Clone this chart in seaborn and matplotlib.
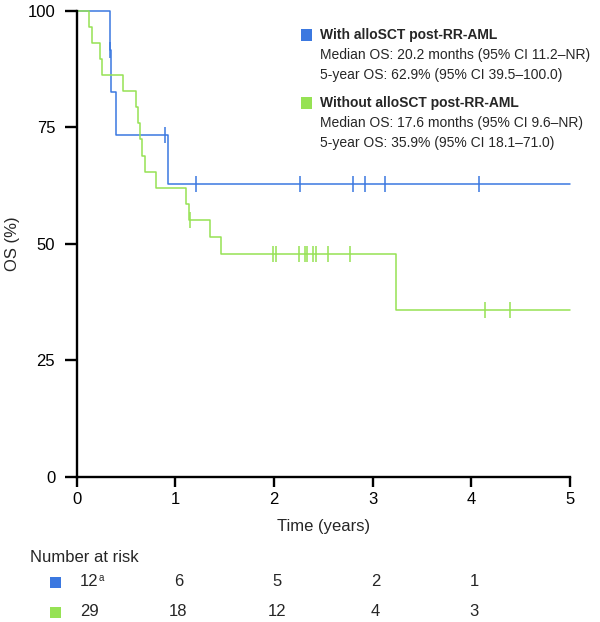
import numpy as np
import seaborn as sns
import matplotlib
matplotlib.use("Agg")
import matplotlib.pyplot as plt
from matplotlib.patches import Rectangle
from matplotlib.transforms import blended_transform_factory

# ---------------------------------------------------------------
# Data (time in years, 1 = death, 0 = censored)
# ---------------------------------------------------------------
with_times = [0.335, 0.34, 0.35, 0.395, 0.89, 0.93, 1.214, 2.262, 2.80, 2.918, 3.12, 4.077]
with_events = [1, 0, 1, 1, 0, 1, 0, 0, 0, 0, 0, 0]

without_times = [0.125, 0.155, 0.24, 0.26, 0.47, 0.60, 0.62, 0.64, 0.666, 0.69, 0.80,
                 1.112, 1.14, 1.145, 1.35, 1.467, 1.991, 2.018, 2.255, 2.309, 2.336,
                 2.397, 2.424, 2.543, 2.772, 3.232, 4.141, 4.388, 5.2]
without_events = [1, 1, 1, 1, 1, 1, 1, 1, 1, 1, 1,
                  1, 1, 0, 1, 1, 0, 0, 0, 0, 0,
                  0, 0, 0, 0, 1, 0, 0, 0]

risk_years = [0, 1, 2, 3, 4]
risk_with = ["12", "6", "5", "2", "1"]
risk_without = ["29", "18", "12", "4", "3"]

group_names = ["With alloSCT post-RR-AML", "Without alloSCT post-RR-AML"]
group_notes = [["Median OS: 20.2 months (95% CI 11.2\u2013NR)",
                "5-year OS: 62.9% (95% CI 39.5\u2013100.0)"],
               ["Median OS: 17.6 months (95% CI 9.6\u2013NR)",
                "5-year OS: 35.9% (95% CI 18.1\u201371.0)"]]

BLUE = "#3b78e0"
GREEN = "#96e254"
X_END = 5


def kaplan_meier(times, events):
    # step points for events, and the survival level at each censored time
    order = np.argsort(times)
    n = len(times)
    s = 100.0
    xs, ys = [0.0], [100.0]
    cx, cy = [], []
    for i in order:
        if events[i]:
            s = s * (n - 1) / n
            xs.append(times[i])
            ys.append(s)
        else:
            cx.append(times[i])
            cy.append(s)
        n -= 1
    xs.append(X_END)
    ys.append(s)
    return xs, ys, cx, cy


sns.set_theme(style="ticks")
plt.rcParams["font.family"] = ["Liberation Sans", "DejaVu Sans"]

W, H = 600, 622
fig = plt.figure(figsize=(W / 100, H / 100), dpi=100)
ax = fig.add_axes([76.7 / W, 1 - 476.7 / H, (570 - 76.7) / W, (476.7 - 11) / H])

for times, events, col in [(with_times, with_events, BLUE),
                           (without_times, without_events, GREEN)]:
    xs, ys, cx, cy = kaplan_meier(times, events)
    sns.lineplot(x=xs, y=ys, drawstyle="steps-post", estimator=None, sort=False,
                 color=col, lw=1.1, ax=ax, clip_on=False)
    sns.scatterplot(x=cx, y=cy, marker="|", s=125, color=col, linewidth=1.1,
                    ax=ax, zorder=3)

ax.set_xlim(0, 5)
ax.set_ylim(0, 100)
ax.set_xticks(range(0, 6))
ax.set_yticks([0, 25, 50, 75, 100])
for side in ["top", "right"]:
    ax.spines[side].set_visible(False)
for side in ["left", "bottom"]:
    ax.spines[side].set_linewidth(1.7)
    ax.spines[side].set_color("black")
ax.tick_params(axis="both", width=1.7, labelsize=12, colors="black")
ax.tick_params(axis="x", length=7, pad=4)
ax.tick_params(axis="y", length=8.5, pad=7)
ax.set_xlabel("Time (years)", fontsize=12, labelpad=9)
ax.set_ylabel("OS (%)", fontsize=12, labelpad=5)

# legend block, top right
sq = 11
legend_rows = [(35, BLUE), (103, GREEN)]
for (y0, col), name, notes in zip(legend_rows, group_names, group_notes):
    fig.add_artist(Rectangle((301.5 / W, 1 - (y0 + sq / 2) / H), sq / W, sq / H,
                             transform=fig.transFigure, color=col, lw=0))
    fig.text(320 / W, 1 - y0 / H, name, fontsize=10, fontweight="bold",
             ha="left", va="center")
    for k, line in enumerate(notes):
        fig.text(320 / W, 1 - (y0 + 20 * (k + 1)) / H, line, fontsize=10,
                 ha="left", va="center")

# number at risk table
fig.text(30 / W, 1 - 557 / H, "Number at risk", fontsize=12, ha="left", va="center")
trans = blended_transform_factory(ax.transData, fig.transFigure)
for y0, col, vals in [(582, BLUE, risk_with), (612, GREEN, risk_without)]:
    fig.add_artist(Rectangle((50 / W, 1 - (y0 + 5.5) / H), 11 / W, 11 / H,
                             transform=fig.transFigure, color=col, lw=0))
    for yr, v in zip(risk_years, vals):
        xpos = 0.13 if yr == 0 else yr + 0.03
        ax.text(xpos, 1 - y0 / H, v, transform=trans, fontsize=12,
                ha="center", va="center", clip_on=False)
# footnote marker on the first count
ax.text(0.218, 1 - 578 / H, "a", transform=trans, fontsize=7,
        ha="left", va="center", clip_on=False)

fig.savefig("out.png", dpi=100)
